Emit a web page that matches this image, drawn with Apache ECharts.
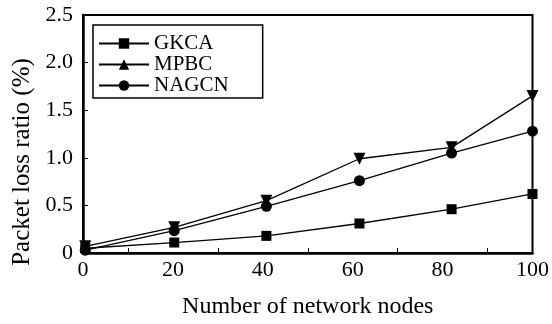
<!DOCTYPE html>
<html>
<head>
<meta charset="utf-8">
<script src="https://cdn.jsdelivr.net/npm/echarts@6/dist/echarts.min.js"></script>
<style>
html,body{margin:0;padding:0;background:#fff;}
#chart{width:552px;height:324px;}
</style>
</head>
<body>
<div id="chart"></div>
<script>
// Data
var xNodes = [0.5, 20.3, 40.8, 61.5, 82, 100];
var gkca = [0.05, 0.11, 0.18, 0.31, 0.46, 0.62];
var mpbc = [0.07, 0.27, 0.55, 0.99, 1.11, 1.65];
var nagcn = [0.03, 0.235, 0.49, 0.76, 1.05, 1.28];
var seriesNames = ['GKCA', 'MPBC', 'NAGCN'];
var xTickLabels = {0: '0', 20: '20', 40: '40', 60: '60', 80: '80', 100: '100'};
var yTickLabels = {0: '0', 0.5: '0.5', 1: '1.0', 1.5: '1.5', 2: '2.0', 2.5: '2.5'};

function pairs(ys) { return ys.map(function (y, i) { return [xNodes[i], y]; }); }

var font = 'Liberation Serif, Times New Roman, serif';
var chart = echarts.init(document.getElementById('chart'), null, {renderer: 'canvas'});

function mkSeries(name, data, symbol, size, rotate) {
  return {
    name: name, type: 'line', data: pairs(data),
    symbol: symbol, symbolSize: size, symbolRotate: rotate || 0,
    lineStyle: {color: '#000', width: 1.3},
    itemStyle: {color: '#000'},
    animation: false
  };
}

chart.setOption({
  animation: false,
  backgroundColor: '#fff',
  grid: {left: 83, right: 15, top: 15, bottom: 67, show: true, borderColor: '#000', borderWidth: 2},
  legend: {
    orient: 'vertical', left: 93, top: 25,
    data: seriesNames,
    itemWidth: 50, itemHeight: 13, itemGap: 0,
    symbolRotate: 0,
    borderColor: '#000', borderWidth: 1.5,
    padding: [8, 34, 2, 5],
    textStyle: {fontFamily: font, fontSize: 21, color: '#000', lineHeight: 20}
  },
  xAxis: {
    type: 'value', min: 0, max: 100, interval: 20,
    name: 'Number of network nodes', nameLocation: 'middle', nameGap: 42,
    nameTextStyle: {fontFamily: font, fontSize: 24, color: '#000'},
    axisLine: {lineStyle: {color: '#000', width: 2.5}},
    axisTick: {show: false, inside: true},
    minorTick: {show: true, splitNumber: 2, length: 5, lineStyle: {color: '#000', width: 1}},
    splitLine: {show: false},
    axisLabel: {fontFamily: font, fontSize: 22, color: '#000', margin: 6,
      formatter: function (v) { return xTickLabels[v] !== undefined ? xTickLabels[v] : ''; }}
  },
  yAxis: {
    type: 'value', min: 0, max: 2.5, interval: 0.5,
    name: 'Packet loss ratio (%)', nameLocation: 'middle', nameGap: 42,
    nameTextStyle: {fontFamily: font, fontSize: 25, color: '#000', padding: [0, 56, 0, 0]},
    axisLine: {show: true, lineStyle: {color: '#000', width: 2.5}},
    axisTick: {show: true, inside: true, length: 5, lineStyle: {color: '#000', width: 1}},
    splitLine: {show: false},
    axisLabel: {fontFamily: font, fontSize: 22, color: '#000', margin: 10,
      formatter: function (v) { return yTickLabels[v] !== undefined ? yTickLabels[v] : String(v); }}
  },
  series: [
    mkSeries('GKCA', gkca, 'rect', 10),
    mkSeries('MPBC', mpbc, 'triangle', 12, 180),
    mkSeries('NAGCN', nagcn, 'circle', 11)
  ]
});
</script>
</body>
</html>
